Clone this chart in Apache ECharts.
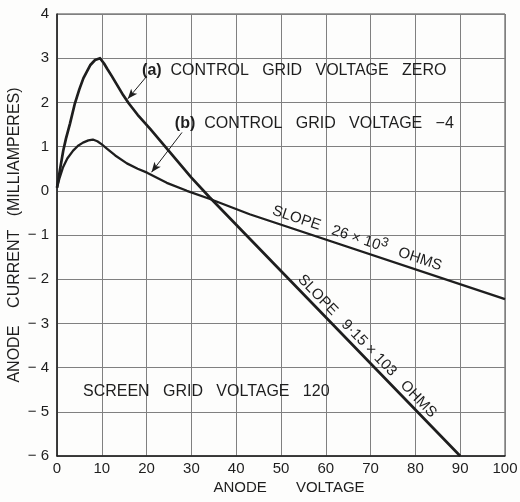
<!DOCTYPE html>
<html>
<head>
<meta charset="utf-8">
<script src="https://cdn.jsdelivr.net/npm/echarts@6/dist/echarts.min.js"></script>
<style>
html,body{margin:0;padding:0;background:#fdfdfc;}
#c{width:520px;height:502px;}
</style>
</head>
<body>
<div id="c"></div>
<script>
// ---- data ----
const xTicks = [0, 10, 20, 30, 40, 50, 60, 70, 80, 90, 100];
const yTicks = [-6, -5, -4, -3, -2, -1, 0, 1, 2, 3, 4];
// (a) control grid voltage zero  [anode V, anode mA]
const curveA = [[0,0.07],[0.7,0.5],[1.4,0.91],[2,1.18],[2.9,1.52],[4,1.98],[5,2.3],[5.9,2.55],[7.4,2.84],[8.5,2.96],[9.6,3.0],[10.5,2.88],[11.2,2.76],[12.2,2.6],[13.5,2.38],[14.8,2.16],[16,1.98],[18,1.72],[20.8,1.4],[25,0.9],[30,0.3],[34,-0.14],[90,-6]];
// (b) control grid voltage -4
const curveB = [[0,0.07],[0.6,0.3],[1.3,0.52],[2.3,0.73],[3.6,0.91],[4.7,1.02],[5.8,1.09],[7,1.14],[8,1.16],[9,1.12],[10,1.05],[11.2,0.95],[13,0.8],[15.6,0.62],[18,0.5],[20.1,0.41],[24.5,0.18],[29,0.0],[34,-0.18],[43,-0.53],[100,-2.45]];
// annotation arrows: [from, to] in data coordinates
const arrowA = [[20.1,2.6],[15.8,2.08]];
const arrowB = [[27.9,1.32],[21.1,0.42]];
// text annotations
const labelA = '(a)';
const textA = 'CONTROL   GRID   VOLTAGE   ZERO';
const labelB = '(b)';
const textB = 'CONTROL   GRID   VOLTAGE   \u22124';
const labelAPos = [19.0, 2.73];
const labelBPos = [26.3, 1.52];
const screenText = 'SCREEN   GRID   VOLTAGE   120';
const screenPos = [5.8, -4.55];
const slopeBParts = ['SLOPE   26 \u00d7 10', '3', '   OHMS'];
const slopeBLine = [[43,-0.53],[100,-2.45]];
const slopeBAt = 66.2;
const slopeAText = 'SLOPE   9\u00b715 \u00d7 103   OHMS';
const slopeALine = [[34,-0.14],[90,-6]];
const slopeAAt = 67.7;
const xName = 'ANODE       VOLTAGE';
const yName = 'ANODE    CURRENT   (MILLIAMPERES)';

const FONT = 'Liberation Sans, Arial, sans-serif';
const INK = '#1e1e1e';

const chart = echarts.init(document.getElementById('c'), null, {renderer:'canvas'});

function fmtY(v){ return v < 0 ? '\u2212 ' + Math.abs(v) : String(v); }

const arrowLine = (pair) => ({
  silent: true,
  symbol: ['none','arrow'],
  symbolSize: [6,10],
  label: {show:false},
  lineStyle: {color: INK, width: 1, type: 'solid'},
  data: [[{coord: pair[0]}, {coord: pair[1]}]]
});

chart.setOption({
  animation: false,
  backgroundColor: '#fdfdfc',
  grid: {left:57, right:15, top:14, bottom:46, show:true, borderColor:'#444', borderWidth:1, containLabel:false, outerBoundsMode:'none'},
  xAxis: {
    type:'value', min:xTicks[0], max:xTicks[xTicks.length-1], interval:10,
    name: xName, nameLocation:'middle', nameGap:24, nameMoveOverlap:false,
    nameTextStyle:{fontFamily:FONT, fontSize:15, color:INK, padding:[0,0,0,16]},
    axisLine:{show:true, onZero:false, lineStyle:{color:INK, width:1.5}},
    axisTick:{show:false},
    axisLabel:{fontFamily:FONT, fontSize:15, color:INK, margin:5},
    splitLine:{show:true, lineStyle:{color:'#808080', width:1}}
  },
  yAxis: {
    type:'value', min:yTicks[0], max:yTicks[yTicks.length-1], interval:1,
    name: yName, nameLocation:'middle', nameGap:34, nameRotate:90, nameMoveOverlap:false,
    nameTextStyle:{fontFamily:FONT, fontSize:16, color:INK},
    axisLine:{show:true, onZero:false, lineStyle:{color:INK, width:1.5}},
    axisTick:{show:false},
    axisLabel:{fontFamily:FONT, fontSize:15, color:INK, margin:8, formatter:fmtY},
    splitLine:{show:true, lineStyle:{color:'#808080', width:1}}
  },
  series: [
    {type:'line', data:curveA, smooth:false, showSymbol:false, lineStyle:{color:INK, width:2.7, join:'round'}, markLine: arrowLine(arrowA)},
    {type:'line', data:curveB, smooth:false, showSymbol:false, lineStyle:{color:INK, width:2.3, join:'round'}, markLine: arrowLine(arrowB)}
  ]
});

function px(p){ return chart.convertToPixel({gridIndex:0}, p); }
function onLine(line, x){
  const [p0,p1] = line;
  const t = (x - p0[0])/(p1[0]-p0[0]);
  return [x, p0[1] + t*(p1[1]-p0[1])];
}
function slopeText(text, rich, line, atX, gap){
  const a = px(line[0]), b = px(line[1]);
  const ang = Math.atan2(b[1]-a[1], b[0]-a[0]);
  const r = -ang;
  const p = px(onLine(line, atX));
  const style = {text:text, fill:INK, font:'15px ' + FONT, textAlign:'center', textVerticalAlign:'bottom'};
  if (rich) style.rich = rich;
  return {
    type:'text', x: p[0] - gap*Math.sin(r), y: p[1] - gap*Math.cos(r), rotation: r,
    style: style
  };
}
function labelText(lbl, txt, pos){
  const p = px(pos);
  return {
    type:'text', x:p[0], y:p[1],
    style:{
      text:'{b|' + lbl + '}  ' + txt,
      rich:{b:{font:'bold 16px ' + FONT, fill:INK}},
      fill:INK, font:'16px ' + FONT, textAlign:'left', textVerticalAlign:'middle'
    }
  };
}
const sp = px(screenPos);
const slopeBRich = {
  n:{font:'15px ' + FONT, fill:INK},
  s:{font:'13px ' + FONT, fill:INK, padding:[0,0,9,0]}
};
chart.setOption({
  graphic: [
    labelText(labelA, textA, labelAPos),
    labelText(labelB, textB, labelBPos),
    {type:'text', x:sp[0], y:sp[1], style:{text:screenText, fill:INK, font:'16px ' + FONT, textAlign:'left', textVerticalAlign:'middle'}},
    slopeText('{n|' + slopeBParts[0] + '}{s|' + slopeBParts[1] + '}{n|' + slopeBParts[2] + '}', slopeBRich, slopeBLine, slopeBAt, 0),
    slopeText(slopeAText, null, slopeALine, slopeAAt, 2)
  ]
});
</script>
</body>
</html>
